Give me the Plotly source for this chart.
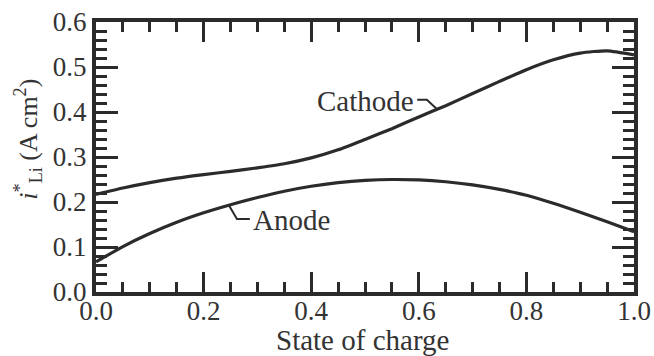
import numpy as np
import plotly.graph_objects as go

soc = [0.0, 0.05, 0.1, 0.15, 0.2, 0.25, 0.3, 0.35, 0.4, 0.45, 0.5,
       0.55, 0.6, 0.65, 0.7, 0.75, 0.8, 0.85, 0.9, 0.95, 1.0]
cathode = [0.217, 0.231, 0.243, 0.253, 0.261, 0.268, 0.276, 0.285, 0.298, 0.316, 0.339,
           0.363, 0.389, 0.414, 0.441, 0.468, 0.494, 0.516, 0.531, 0.536, 0.527]
anode = [0.067, 0.101, 0.130, 0.155, 0.176, 0.194, 0.210, 0.224, 0.235, 0.243, 0.248,
         0.250, 0.249, 0.245, 0.238, 0.228, 0.215, 0.197, 0.177, 0.156, 0.134]

x_ticks = [0.0, 0.2, 0.4, 0.6, 0.8, 1.0]
x_tick_labels = ["0.0", "0.2", "0.4", "0.6", "0.8", "1.0"]
y_ticks = [0.0, 0.1, 0.2, 0.3, 0.4, 0.5, 0.6]
y_tick_labels = ["0.0", "0.1", "0.2", "0.3", "0.4", "0.5", "0.6"]

INK = "#2b2b2b"
TXT = "#333333"
FONT = "'Liberation Serif', 'Times New Roman', Times, serif"

fig = go.Figure()
fig.add_trace(go.Scatter(x=soc, y=cathode, mode="lines", name="Cathode",
                         line=dict(color=INK, width=3.2, shape="spline", smoothing=0.6)))
fig.add_trace(go.Scatter(x=soc, y=anode, mode="lines", name="Anode",
                         line=dict(color=INK, width=3.2, shape="spline", smoothing=0.6)))

# leader lines anchored on the curves
cx = 0.634
cy = float(np.interp(cx, soc, cathode))
ax_ = 0.247
ay = float(np.interp(ax_, soc, anode))
fig.add_shape(type="path", xref="x", yref="y",
              path=f"M 0.597 0.427 L 0.615 0.427 L {cx} {cy}",
              line=dict(color=INK, width=2))
fig.add_shape(type="path", xref="x", yref="y",
              path=f"M {ax_} {ay} L 0.262 0.162 L 0.286 0.162",
              line=dict(color=INK, width=2))

fig.add_annotation(x=0.594, y=0.425, xref="x", yref="y", text="Cathode",
                   showarrow=False, xanchor="right", yanchor="middle",
                   font=dict(family=FONT, size=29, color=TXT))
fig.add_annotation(x=0.289, y=0.160, xref="x", yref="y", text="Anode",
                   showarrow=False, xanchor="left", yanchor="middle",
                   font=dict(family=FONT, size=29, color=TXT))

fig.add_annotation(x=-0.126, y=0.565, xref="paper", yref="paper",
                   text="<i>i</i><sup>*</sup><sub>Li</sub> (A cm<sup>2</sup>)",
                   showarrow=False, textangle=-90, xanchor="center", yanchor="middle",
                   font=dict(family=FONT, size=26, color=TXT))
fig.add_annotation(x=0.496, y=-0.178, xref="paper", yref="paper",
                   text="State of charge", showarrow=False,
                   xanchor="center", yanchor="middle",
                   font=dict(family=FONT, size=29, color=TXT))

fig.update_xaxes(range=[0, 1], tickvals=x_ticks, ticktext=x_tick_labels,
                 ticks="inside", ticklen=20, tickwidth=3, tickcolor=INK,
                 showline=True, linewidth=4, linecolor=INK, mirror="allticks",
                 showgrid=False, zeroline=False, automargin=False,
                 ticklabelstandoff=-8, ticklabeloverflow="allow",
                 minor=dict(ticks="inside", ticklen=10, tickwidth=3, tickcolor=INK,
                            dtick=0.05, showgrid=False),
                 tickfont=dict(family=FONT, size=27, color=TXT))
fig.update_yaxes(range=[0, 0.6], tickvals=y_ticks, ticktext=y_tick_labels,
                 ticks="inside", ticklen=22, tickwidth=3, tickcolor=INK,
                 showline=True, linewidth=4, linecolor=INK, mirror="allticks",
                 showgrid=False, zeroline=False, automargin=False,
                 ticklabeloverflow="allow",
                 minor=dict(ticks="inside", ticklen=11, tickwidth=3, tickcolor=INK,
                            dtick=0.02, showgrid=False),
                 tickfont=dict(family=FONT, size=27, color=TXT))

fig.update_layout(width=654, height=356, showlegend=False,
                  margin=dict(l=96, r=20, t=22, b=64),
                  plot_bgcolor="white", paper_bgcolor="white")

# remove the default 8px page margin so the figure fills the 654x356 window
fig.write_html("out.html",
               config={"displayModeBar": False},
               post_script="document.body.style.margin='0px';document.body.style.overflow='hidden';")
